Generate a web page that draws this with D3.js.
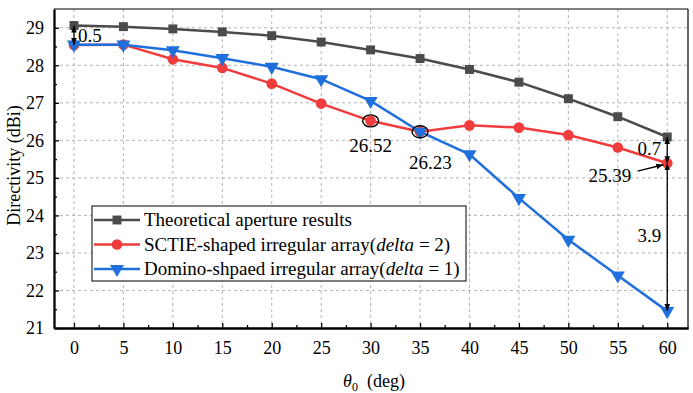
<!DOCTYPE html>
<html>
<head>
<meta charset="utf-8">
<script src="https://cdn.jsdelivr.net/npm/d3@7"></script>
<style>
  body { margin: 0; background: #fff; }
  svg text { font-family: "Liberation Serif", "Times New Roman", serif; fill: #000; }
  .grid line { stroke: #b4b4b4; stroke-dasharray: 3,3; stroke-width: 1; }
</style>
</head>
<body>
<div id="chart"></div>
<script>
// Data
const angles = [0, 5, 10, 15, 20, 25, 30, 35, 40, 45, 50, 55, 60];
const theoretical = [29.06, 29.03, 28.97, 28.89, 28.79, 28.62, 28.41, 28.18, 27.89, 27.55, 27.11, 26.63, 26.09];
const sctie = [28.54, 28.55, 28.16, 27.93, 27.51, 26.98, 26.52, 26.23, 26.40, 26.34, 26.14, 25.81, 25.39];
const domino = [28.55, 28.55, 28.40, 28.19, 27.96, 27.63, 27.05, 26.23, 25.63, 24.46, 23.35, 22.40, 21.45];
const xTicks = [0, 5, 10, 15, 20, 25, 30, 35, 40, 45, 50, 55, 60];
const yTicks = [21, 22, 23, 24, 25, 26, 27, 28, 29];
const seriesNames = [
  ['Theoretical aperture results'],
  ['SCTIE-shaped irregular array(', 'delta', ' = 2)'],
  ['Domino-shpaed irregular array(', 'delta', ' = 1)']
];

const W = 693, H = 393;
const margin = { top: 9, right: 5, bottom: 65, left: 54 };
const width = W - margin.left - margin.right;
const height = H - margin.top - margin.bottom;
const FONT = '"Liberation Serif", "Times New Roman", serif';

const svg = d3.select('#chart').append('svg')
  .attr('width', W).attr('height', H)
  .attr('font-family', FONT);

const defs = svg.append('defs');
defs.append('marker').attr('id', 'ah').attr('viewBox', '0 0 10 10')
  .attr('refX', 10).attr('refY', 5).attr('markerWidth', 7).attr('markerHeight', 7)
  .attr('markerUnits', 'userSpaceOnUse').attr('orient', 'auto-start-reverse')
  .append('path').attr('d', 'M0,1 L10,5 L0,9 Z').attr('fill', '#000');

const g = svg.append('g').attr('transform', `translate(${margin.left},${margin.top})`);

const x = d3.scaleLinear().domain([-2.02, 62.1]).range([0, width]);
const y = d3.scaleLinear().domain([21, 29.5]).range([height, 0]);

// Grid
g.append('g').attr('class', 'grid')
  .selectAll('line').data(xTicks).enter().append('line')
  .attr('x1', d => x(d)).attr('x2', d => x(d)).attr('y1', 0).attr('y2', height);
g.append('g').attr('class', 'grid')
  .selectAll('line').data(yTicks).enter().append('line')
  .attr('x1', 0).attr('x2', width).attr('y1', d => y(d)).attr('y2', d => y(d));

// Frame (top/right)
g.append('line').attr('x1', 0).attr('x2', width).attr('y1', 0).attr('y2', 0).attr('stroke', '#000').attr('stroke-width', 1.2);
g.append('line').attr('x1', width).attr('x2', width).attr('y1', 0).attr('y2', height).attr('stroke', '#000').attr('stroke-width', 1.2);

// Axes with inward ticks
const xAxis = g.append('g').attr('transform', `translate(0,${height})`)
  .call(d3.axisBottom(x).tickValues(xTicks).tickSizeInner(-5).tickSizeOuter(0).tickPadding(13));
const xMinor = g.append('g').attr('transform', `translate(0,${height})`)
  .call(d3.axisBottom(x).tickValues(d3.range(2.5, 62, 5)).tickSizeInner(-3).tickSizeOuter(0).tickFormat(''));
const yAxis = g.append('g')
  .call(d3.axisLeft(y).tickValues(yTicks).tickSizeInner(-5).tickSizeOuter(0).tickPadding(10));
const yMinor = g.append('g')
  .call(d3.axisLeft(y).tickValues(d3.range(21.5, 29.5, 1)).tickSizeInner(-3).tickSizeOuter(0).tickFormat(''));
[xAxis, xMinor, yAxis, yMinor].forEach(a => {
  a.attr('font-family', FONT).attr('font-size', 18);
  a.select('.domain').attr('stroke', '#000').attr('stroke-width', 1.8);
  a.selectAll('.tick line').attr('stroke', '#000').attr('stroke-width', 1.3);
  a.selectAll('.tick text').attr('fill', '#000');
});

// Axis labels
g.append('text').attr('transform', 'rotate(-90)')
  .attr('x', -height / 2 + 3).attr('y', -34)
  .attr('text-anchor', 'middle').attr('font-size', 18)
  .text('Directivity (dBi)');
const xl = g.append('text').attr('x', width / 2 + 3).attr('y', height + 59)
  .attr('text-anchor', 'middle').attr('font-size', 18);
xl.append('tspan').attr('font-style', 'italic').text('θ');
xl.append('tspan').attr('dy', 4).attr('font-size', 12).text('0');
xl.append('tspan').attr('dy', -4).text('\u2002(deg)');

// Series
const colors = ['#4b4b4b', '#f03c3c', '#1f6fdc'];
const series = [theoretical, sctie, domino];
const line = d3.line().x((d, i) => x(angles[i])).y(d => y(d));
const sym = [d3.symbolSquare, d3.symbolCircle, d3.symbolTriangle];
const symSize = [80, 90, 85];

function drawMarker(sel, k) {
  sel.append('path')
    .attr('d', d3.symbol().type(sym[k]).size(symSize[k]))
    .attr('fill', colors[k])
    .attr('transform', k === 2 ? 'rotate(180)' : null);
}

series.forEach((vals, k) => {
  g.append('path').datum(vals).attr('d', line)
    .attr('fill', 'none').attr('stroke', colors[k]).attr('stroke-width', 2.5);
  g.selectAll(null).data(vals).enter().append('g')
    .attr('transform', (d, i) => `translate(${x(angles[i])},${y(d)})`)
    .each(function () { drawMarker(d3.select(this), k); });
});

// Annotations
function dblArrow(xv, y1, y2) {
  g.append('line').attr('x1', x(xv)).attr('x2', x(xv)).attr('y1', y(y1)).attr('y2', y(y2))
    .attr('stroke', '#000').attr('stroke-width', 1.3)
    .attr('marker-start', 'url(#ah)').attr('marker-end', 'url(#ah)');
}
dblArrow(0, theoretical[0], sctie[0]);
dblArrow(60, theoretical[12], sctie[12]);
dblArrow(60, sctie[12], domino[12]);

function note(xv, yv, t, anchor) {
  g.append('text').attr('x', x(xv)).attr('y', y(yv)).attr('text-anchor', anchor || 'start')
    .attr('font-size', 19).text(t);
}
note(0.4, 28.62, '0.5');
note(59.4, 25.61, '0.7', 'end');
note(59.4, 23.29, '3.9', 'end');
note(56.35, 24.89, '25.39', 'end');
g.append('line').attr('x1', x(57.0)).attr('y1', y(25.18)).attr('x2', x(59.6)).attr('y2', y(25.35))
  .attr('stroke', '#000').attr('stroke-width', 1.3).attr('marker-end', 'url(#ah)');

[[30, sctie[6], '26.52', 30, 25.69], [35, sctie[7], '26.23', 36.05, 25.23]].forEach(([a, v, t, tx, ty]) => {
  g.append('ellipse').attr('cx', x(a)).attr('cy', y(v)).attr('rx', 8).attr('ry', 6)
    .attr('fill', 'none').attr('stroke', '#000').attr('stroke-width', 1.4);
  note(tx, ty, t, 'middle');
});

// Legend
const lg = svg.append('g').attr('transform', 'translate(92,206)');
lg.append('rect').attr('width', 374).attr('height', 75)
  .attr('fill', '#fff').attr('stroke', '#000').attr('stroke-width', 1);
seriesNames.forEach((parts, k) => {
  const ry = 14 + k * 24.5;
  lg.append('line').attr('x1', 2).attr('x2', 48).attr('y1', ry).attr('y2', ry)
    .attr('stroke', colors[k]).attr('stroke-width', 2.5);
  drawMarker(lg.append('g').attr('transform', `translate(25,${ry})`), k);
  const t = lg.append('text').attr('x', 52).attr('y', ry + 6).attr('font-size', 19);
  t.append('tspan').text(parts[0]);
  if (parts.length > 2) {
    t.append('tspan').attr('font-style', 'italic').text(parts[1]);
    t.append('tspan').text(parts[2]);
  }
});
</script>
</body>
</html>
